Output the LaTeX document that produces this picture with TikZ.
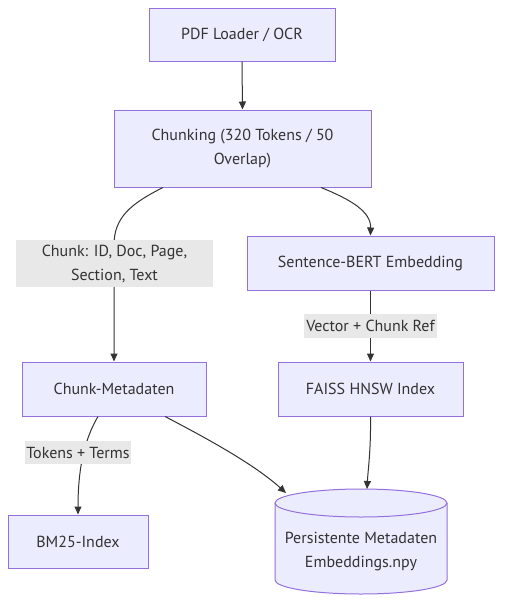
\documentclass[tikz,border=0pt]{standalone}
\usepackage{fontspec}
\setmainfont{PT Sans}
\usetikzlibrary{arrows.meta,calc}
\definecolor{nodefill}{HTML}{ECECFF}
\definecolor{nodeline}{HTML}{9370DB}
\definecolor{labelbg}{HTML}{E8E8E8}
\definecolor{ink}{HTML}{333333}
\tikzset{
  box/.style={draw=nodeline, fill=nodefill, line width=1pt, text=ink, align=center,
    inner sep=0pt, font=\fontsize{16}{24}\selectfont},
  elabel/.style={fill=labelbg, text=ink, align=center, inner sep=0pt,
    font=\fontsize{16}{24}\selectfont},
  conn/.style={draw=ink, line width=1pt, -{Triangle[length=8pt,width=7pt]}},
}
\begin{document}
\begin{tikzpicture}[x=1pt,y=-1pt]
\useasboundingbox (0,0) rectangle (510,611);
% nodes
\node[box, minimum width=186pt, minimum height=53pt] (pdf) at (242,34.5) {PDF Loader / OCR};
\node[box, minimum width=257pt, minimum height=77pt] (chunk) at (242.5,148.5) {Chunking (320 Tokens / 50\\Overlap)};
\node[box, minimum width=247pt, minimum height=54pt] (sbert) at (370.5,263) {Sentence-BERT Embedding};
\node[box, minimum width=184pt, minimum height=54pt] (meta) at (114,389) {Chunk-Metadaten};
\node[box, minimum width=185pt, minimum height=54pt] (faiss) at (370.5,389) {FAISS HNSW Index};
\node[box, minimum width=140pt, minimum height=53pt] (bm25) at (78,541.5) {BM25-Index};
% cylinder
\draw[draw=nodeline, fill=nodefill, line width=1pt]
  (275,503) -- (275,580) arc[start angle=180,end angle=360,x radius=86pt,y radius=14pt]
  -- (447,503) arc[start angle=0,end angle=180,x radius=86pt,y radius=14pt] -- cycle;
\draw[draw=nodeline, line width=1pt]
  (275,503) arc[start angle=180,end angle=360,x radius=86pt,y radius=14pt];
\node[text=ink, align=center, inner sep=0pt, font=\fontsize{16}{24}\selectfont] (store) at (361,551.5)
  {Persistente Metadaten\\Embeddings.npy};
\coordinate (storeA) at (286,493);
\coordinate (storeB) at (367,489);
% connectors
\draw[conn] (pdf.south) -- (chunk.north);
\draw[conn] ([xshift=-79.5pt]chunk.south) .. controls (130,204) and (114,218) .. (114,245) -- (meta.north);
\draw[conn] ([xshift=78.5pt]chunk.south) .. controls (352,200) and (371,212) .. (sbert.north);
\draw[conn] (sbert.south) -- (faiss.north);
\draw[conn] ([xshift=-16pt]meta.south) .. controls (84,440) and (78,470) .. (bm25.north);
\draw[conn] ([xshift=51pt]meta.south) .. controls (210,440) and (255,465) .. (storeA);
\draw[conn] (faiss.south) .. controls (371,450) and (368,470) .. (storeB);
% labels
\node[elabel, minimum width=197pt, minimum height=47pt] (l1) at (114.5,263.5) {Chunk: ID, Doc, Page,\\Section, Text};
\node[elabel, minimum width=133pt, minimum height=24pt] (l2) at (370.5,326) {Vector + Chunk Ref};
\node[elabel, minimum width=106pt, minimum height=23pt] (l3) at (78,452.5) {Tokens + Terms};
\end{tikzpicture}
\end{document}
